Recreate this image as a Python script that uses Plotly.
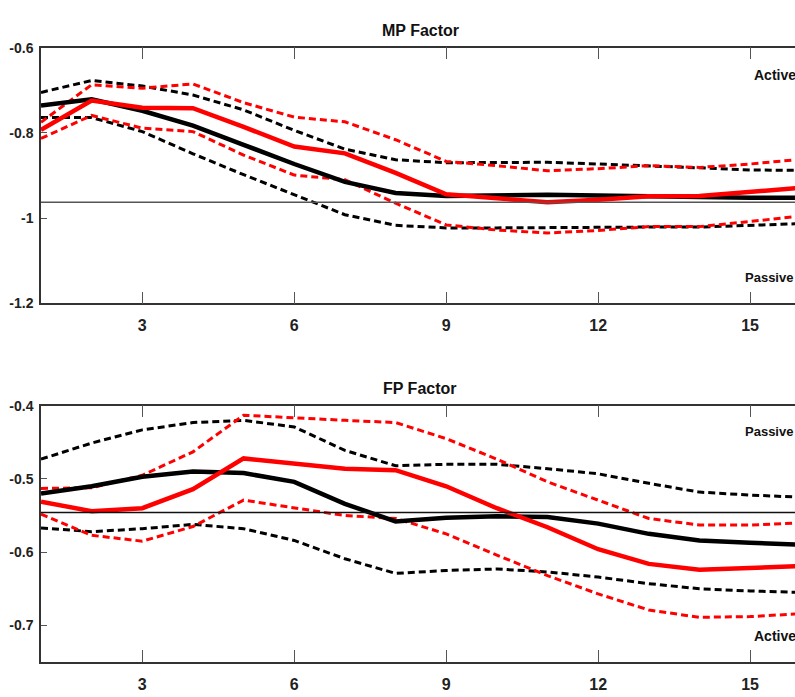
import plotly.graph_objects as go

# ---------------- data ----------------
horizon = list(range(1, 17))

mp_active_median = [-0.793, -0.724, -0.741, -0.742, -0.786, -0.832, -0.848, -0.894,
                    -0.944, -0.953, -0.963, -0.957, -0.949, -0.948, -0.938, -0.929]
mp_active_upper = [-0.775, -0.687, -0.695, -0.685, -0.729, -0.763, -0.774, -0.816,
                   -0.867, -0.877, -0.889, -0.884, -0.877, -0.881, -0.873, -0.862]
mp_active_lower = [-0.813, -0.759, -0.789, -0.797, -0.852, -0.899, -0.910, -0.965,
                   -1.016, -1.028, -1.035, -1.029, -1.020, -1.020, -1.008, -0.995]
mp_passive_median = [-0.736, -0.721, -0.748, -0.783, -0.828, -0.873, -0.915, -0.941,
                     -0.948, -0.946, -0.945, -0.947, -0.949, -0.952, -0.952, -0.952]
mp_passive_upper = [-0.705, -0.677, -0.690, -0.711, -0.746, -0.794, -0.838, -0.863,
                    -0.870, -0.870, -0.869, -0.873, -0.877, -0.882, -0.887, -0.888]
mp_passive_lower = [-0.764, -0.764, -0.797, -0.849, -0.898, -0.945, -0.992, -1.017,
                    -1.023, -1.023, -1.022, -1.021, -1.021, -1.021, -1.017, -1.013]
mp_steady = -0.9625

fp_active_median = [-0.531, -0.544, -0.540, -0.514, -0.472, -0.479, -0.486, -0.488,
                    -0.510, -0.540, -0.566, -0.596, -0.616, -0.624, -0.622, -0.619]
fp_active_upper = [-0.513, -0.512, -0.495, -0.463, -0.413, -0.417, -0.420, -0.423,
                   -0.445, -0.473, -0.504, -0.529, -0.554, -0.563, -0.563, -0.560]
fp_active_lower = [-0.548, -0.577, -0.585, -0.565, -0.529, -0.540, -0.550, -0.554,
                   -0.575, -0.604, -0.632, -0.657, -0.679, -0.689, -0.688, -0.684]
fp_passive_median = [-0.520, -0.510, -0.497, -0.490, -0.492, -0.504, -0.534, -0.558,
                     -0.553, -0.551, -0.552, -0.561, -0.575, -0.584, -0.587, -0.590]
fp_passive_upper = [-0.473, -0.451, -0.433, -0.423, -0.420, -0.429, -0.461, -0.482,
                    -0.480, -0.480, -0.486, -0.493, -0.506, -0.518, -0.522, -0.525]
fp_passive_lower = [-0.567, -0.572, -0.568, -0.562, -0.568, -0.584, -0.609, -0.629,
                    -0.625, -0.623, -0.627, -0.634, -0.643, -0.650, -0.653, -0.655]
fp_steady = -0.546

x_ticks = [3, 6, 9, 12, 15]
mp_y_ticks = [-1.2, -1.0, -0.8, -0.6]
mp_y_labels = ["-1.2", "-1", "-0.8", "-0.6"]
fp_y_ticks = [-0.7, -0.6, -0.5, -0.4]
fp_y_labels = ["-0.7", "-0.6", "-0.5", "-0.4"]

titles = ["MP Factor", "FP Factor"]

# ---------------- layout helpers ----------------
W, H = 795, 697
L = 41
FONT = "Liberation Sans, Arial, sans-serif"


def px_x(p):
    return (p - L) / (W - L)


def px_y(p):
    return 1 - p / H


fig = go.Figure()

RED = "#ff0000"
BLACK = "#000000"
DASH = "7px,4px"


def add_panel(xa, ya, pm, pu, pl, am, au, al):
    common = dict(x=horizon, xaxis=xa, yaxis=ya, mode="lines", showlegend=False,
                  hoverinfo="skip")
    fig.add_trace(go.Scatter(y=pu, line=dict(color=BLACK, width=3, dash=DASH), **common))
    fig.add_trace(go.Scatter(y=pl, line=dict(color=BLACK, width=3, dash=DASH), **common))
    fig.add_trace(go.Scatter(y=au, line=dict(color=RED, width=3, dash=DASH), **common))
    fig.add_trace(go.Scatter(y=al, line=dict(color=RED, width=3, dash=DASH), **common))
    fig.add_trace(go.Scatter(y=pm, line=dict(color=BLACK, width=4.5), **common))
    fig.add_trace(go.Scatter(y=am, line=dict(color=RED, width=4.5), **common))


add_panel("x", "y", mp_passive_median, mp_passive_upper, mp_passive_lower,
          mp_active_median, mp_active_upper, mp_active_lower)
add_panel("x2", "y2", fp_passive_median, fp_passive_upper, fp_passive_lower,
          fp_active_median, fp_active_upper, fp_active_lower)

x_end = 1 + (W - L) / 50.65

xcommon = dict(range=[1, x_end], tickmode="array", tickvals=x_ticks,
               ticktext=[str(t) for t in x_ticks], ticks="inside", ticklen=12,
               tickwidth=1, tickcolor="#555555", showline=True, linecolor="#333333",
               linewidth=1.5, mirror="ticks", showgrid=False, zeroline=False,
               automargin=False, ticklabelstandoff=7,
               tickfont=dict(family=FONT, size=16, color="#222222", weight="bold"))
ycommon = dict(ticks="inside", ticklen=6, tickwidth=1, tickcolor="#555555",
               showline=True, linecolor="#333333", linewidth=1.5, mirror=False,
               showgrid=False, zeroline=False, automargin=False, ticklabelstandoff=3,
               tickfont=dict(family=FONT, size=14, color="#222222", weight="bold"))

top_t, top_b = 47.7, 303.3
bot_t, bot_b = 405.7, 662.0

fig.update_layout(
    width=W, height=H,
    margin=dict(l=L, r=0, t=0, b=0),
    plot_bgcolor="white", paper_bgcolor="white",
    template="none",
    xaxis=dict(domain=[0, 1], anchor="y", **xcommon),
    yaxis=dict(domain=[px_y(top_b), px_y(top_t)], anchor="x", range=[-1.2, -0.6],
               tickmode="array", tickvals=mp_y_ticks, ticktext=mp_y_labels, **ycommon),
    xaxis2=dict(domain=[0, 1], anchor="y2", **xcommon),
    yaxis2=dict(domain=[px_y(bot_b), px_y(bot_t)], anchor="x2", range=[-0.75, -0.4],
                tickmode="array", tickvals=fp_y_ticks, ticktext=fp_y_labels, **ycommon),
)

# steady-state reference lines
fig.add_shape(type="line", xref="x domain", yref="y", x0=0, x1=1, y0=mp_steady,
              y1=mp_steady, line=dict(color="#555555", width=1.5))
fig.add_shape(type="line", xref="x2 domain", yref="y2", x0=0, x1=1, y0=fp_steady,
              y1=fp_steady, line=dict(color="#111111", width=1.5))

tfont = dict(family=FONT, size=16, color="#111111", weight="bold")
fig.add_annotation(text=titles[0], xref="paper", yref="paper", x=px_x(420), y=px_y(30),
                   showarrow=False, font=tfont, xanchor="center", yanchor="middle")
fig.add_annotation(text=titles[1], xref="paper", yref="paper", x=px_x(420), y=px_y(388),
                   showarrow=False, font=tfont, xanchor="center", yanchor="middle")

labels = [("Active", 752, 75, 14), ("Passive", 743, 277, 13), ("Passive", 743, 431, 13),
          ("Active", 752, 636, 14)]
for txt, lx, ly, fs in labels:
    fig.add_annotation(text=txt, xref="paper", yref="paper", x=px_x(lx), y=px_y(ly),
                       showarrow=False, xanchor="left", yanchor="middle",
                       font=dict(family=FONT, size=fs, color="#111111", weight="bold"))

fig.write_html("out.html")
